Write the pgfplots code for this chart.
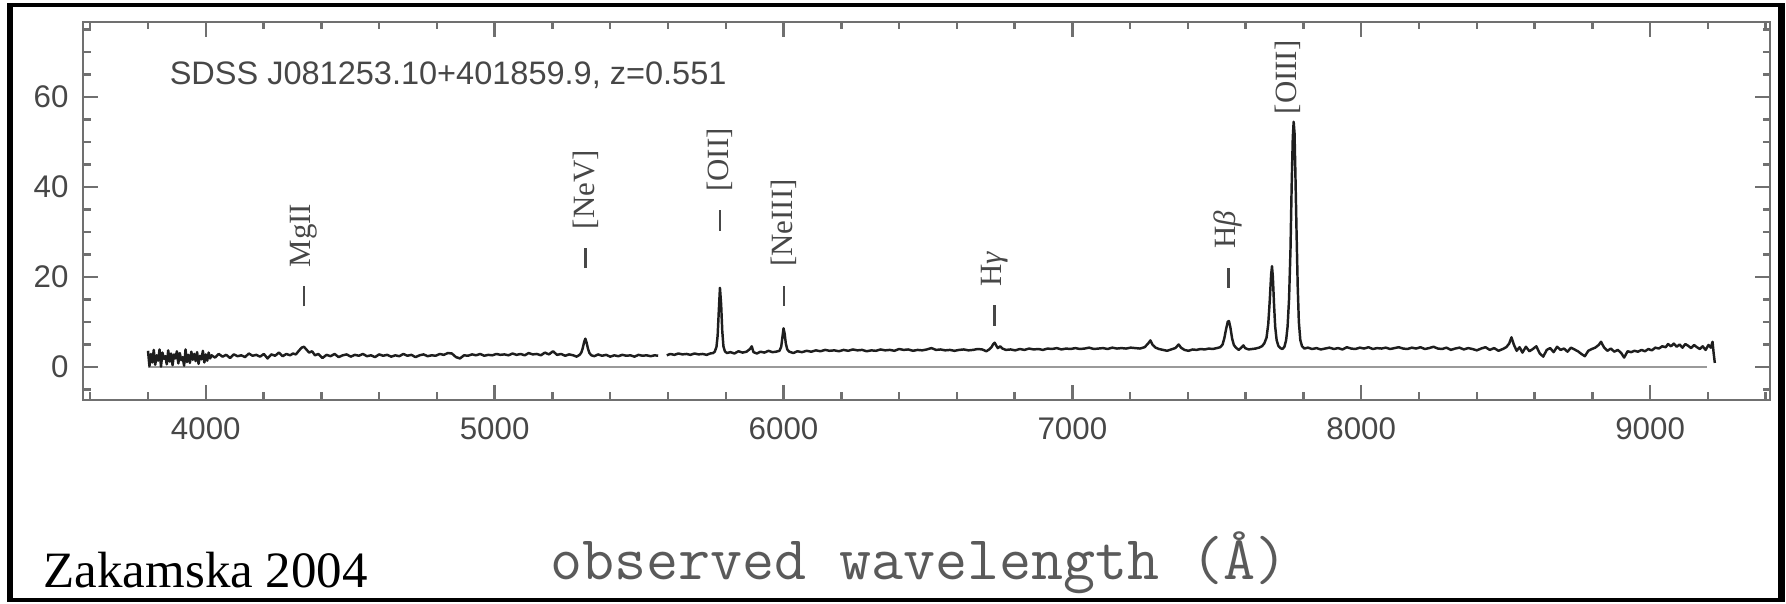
\documentclass[border=0pt]{standalone}
\usepackage{pgfplots}
\pgfplotsset{compat=1.18}
\usepackage{pgfplotstable}
\usepackage{fontspec}
\newfontfamily\labelsans{Liberation Sans}
\newfontfamily\labelserif{Liberation Serif}

\definecolor{axisgray}{HTML}{707070}
\definecolor{textgray}{HTML}{474747}
\definecolor{specblack}{HTML}{1E1E1E}
\definecolor{zerogray}{HTML}{9A9A9A}
\definecolor{xlabelgray}{HTML}{5A5A5A}

% observed-frame spectrum, flux density vs wavelength (Angstrom)
\pgfplotstableread{
lambda flux
3800 3.6
3805 0.2
3810 2.9
3815 1.0
3820 3.8
3825 0.5
3830 2.6
3835 1.4
3840 3.9
3845 0.1
3850 3.2
3855 1.8
3860 2.4
3865 0.6
3870 3.7
3875 1.2
3880 3.0
3885 0.4
3890 2.8
3895 1.9
3900 3.5
3905 0.8
3910 3.1
3915 1.5
3920 2.2
3925 0.3
3930 3.9
3935 1.1
3940 2.7
3945 0.9
3950 3.4
3955 1.6
3960 2.9
3965 1.3
3970 3.3
3975 0.7
3980 2.5
3985 1.7
3990 3.6
3995 1.0
4000 2.8
4005 1.4
4010 3.2
4015 1.9
4020 2.6
4032 2.1
4045 2.9
4058 2.3
4071 2.7
4084 2.0
4097 2.8
4110 2.4
4123 2.6
4136 2.2
4149 3.0
4162 2.5
4175 2.7
4188 2.3
4201 2.9
4214 1.9
4227 2.8
4240 2.5
4253 3.2
4266 2.4
4279 2.9
4292 2.6
4302 3.0
4312 2.8
4322 3.6
4332 4.3
4340 4.5
4348 3.9
4358 3.2
4368 3.5
4378 2.6
4390 2.9
4404 2.0
4418 2.7
4432 2.4
4446 2.9
4460 2.2
4474 2.6
4488 2.8
4502 2.3
4516 2.7
4530 2.5
4544 2.9
4558 2.4
4572 2.6
4586 2.2
4600 2.8
4614 2.5
4628 2.7
4642 2.3
4656 2.6
4670 2.4
4684 2.9
4698 2.5
4712 2.7
4726 2.2
4740 2.6
4754 2.8
4768 2.4
4782 2.6
4796 2.5
4810 2.9
4824 2.7
4838 3.1
4852 3.0
4866 2.2
4880 1.9
4894 2.6
4908 2.5
4922 2.8
4936 2.6
4950 2.9
4964 2.5
4978 2.7
4992 2.6
5006 2.9
5020 2.7
5034 2.8
5048 2.6
5062 3.0
5076 2.7
5090 2.9
5104 2.6
5118 3.1
5132 2.8
5146 2.9
5160 2.6
5174 3.2
5188 2.8
5202 3.5
5216 2.7
5230 2.9
5244 2.5
5258 2.8
5272 2.6
5284 2.3
5294 2.7
5300 3.2
5305 4.2
5310 5.6
5314 6.3
5318 5.5
5323 4.1
5328 3.1
5335 2.6
5345 2.4
5358 2.8
5372 2.5
5386 2.7
5400 2.3
5414 2.6
5428 2.4
5442 2.7
5456 2.5
5470 2.6
5484 2.3
5498 2.7
5512 2.5
5526 2.6
5540 2.4
5554 2.6
5566 2.5
5580 nan
5596 2.6
5608 2.9
5622 2.7
5636 3.0
5650 2.8
5664 2.9
5678 2.7
5692 3.0
5706 2.8
5720 2.9
5734 2.7
5746 3.0
5756 3.1
5762 3.4
5768 4.5
5772 7.0
5776 12.5
5780 17.6
5784 14.0
5788 8.0
5792 4.6
5797 3.5
5804 3.1
5816 3.3
5830 3.0
5844 3.5
5858 3.2
5872 3.4
5884 4.0
5890 4.6
5896 3.3
5908 3.0
5920 3.4
5934 3.2
5948 3.6
5962 3.3
5974 3.4
5986 3.6
5992 4.5
5996 6.5
6000 8.6
6004 7.4
6008 5.2
6013 3.9
6020 3.4
6034 3.1
6048 3.5
6064 3.3
6080 3.6
6096 3.4
6112 3.7
6128 3.5
6144 3.8
6160 3.6
6176 3.7
6192 3.5
6208 3.8
6224 3.6
6240 3.9
6256 3.7
6272 3.8
6288 3.5
6304 3.7
6320 3.6
6336 3.9
6352 3.7
6368 3.8
6384 3.6
6400 4.0
6416 3.8
6432 3.9
6448 3.6
6464 3.8
6480 3.7
6496 3.9
6512 4.2
6528 3.8
6544 3.9
6560 3.7
6576 3.8
6592 3.6
6608 3.8
6624 3.9
6640 3.7
6656 3.8
6672 4.0
6688 3.9
6702 3.5
6712 3.9
6720 4.4
6726 5.1
6731 5.4
6736 4.8
6742 4.2
6750 4.6
6758 4.1
6770 3.8
6786 3.9
6802 3.7
6818 4.0
6834 3.8
6850 4.1
6866 3.9
6882 4.0
6898 3.8
6914 4.1
6930 4.0
6946 4.2
6962 3.9
6978 4.1
6994 4.0
7010 4.2
7026 4.0
7042 4.1
7058 4.3
7074 4.0
7090 4.1
7106 4.2
7122 4.0
7138 4.3
7154 4.1
7170 4.2
7186 4.1
7202 4.3
7218 4.2
7234 4.1
7250 4.4
7262 5.2
7270 5.9
7278 4.9
7288 4.3
7300 4.0
7314 3.8
7328 3.6
7342 3.9
7356 4.2
7368 5.0
7376 4.3
7388 3.8
7402 3.6
7416 3.9
7430 3.8
7444 4.0
7458 3.9
7472 4.1
7486 4.0
7500 4.2
7512 4.4
7520 5.0
7526 6.4
7532 8.4
7538 10.1
7542 10.2
7547 8.8
7553 6.3
7559 4.9
7566 4.3
7576 3.8
7586 4.4
7592 4.8
7598 4.2
7610 3.9
7622 4.0
7634 4.1
7646 4.3
7656 4.6
7664 5.2
7672 6.5
7678 9.5
7683 14.5
7688 20.5
7691 22.4
7694 20.0
7698 14.0
7702 9.0
7707 6.0
7713 4.7
7720 4.2
7727 4.0
7734 4.5
7740 6.0
7745 9.0
7750 15.0
7755 26.0
7759 40.0
7763 51.0
7766 54.5
7769 52.0
7772 43.0
7776 30.0
7780 18.0
7784 10.0
7789 6.0
7795 4.6
7803 4.1
7815 4.3
7830 4.0
7845 4.2
7860 3.9
7875 4.1
7890 4.3
7905 4.0
7920 4.2
7935 3.9
7950 4.4
7965 4.1
7980 4.0
7995 4.3
8010 4.1
8025 4.4
8040 4.0
8055 4.2
8070 4.1
8085 4.3
8100 4.0
8115 4.2
8130 4.4
8145 4.1
8160 4.0
8175 4.3
8190 4.1
8205 4.4
8220 4.0
8235 4.2
8250 4.5
8265 4.1
8280 4.0
8295 4.3
8310 3.8
8325 4.1
8340 4.3
8355 3.9
8370 4.2
8385 4.0
8400 3.7
8415 4.1
8430 4.4
8445 3.8
8460 4.2
8475 3.6
8490 4.0
8502 4.4
8512 5.2
8520 6.6
8528 5.0
8538 3.6
8548 4.4
8558 3.2
8570 4.5
8582 3.5
8594 4.0
8606 4.6
8618 3.0
8630 2.3
8642 3.8
8654 4.2
8666 3.3
8678 4.5
8690 3.8
8702 4.1
8714 3.4
8726 4.3
8738 3.9
8750 3.5
8762 2.9
8774 2.4
8786 3.6
8798 4.0
8810 4.3
8822 4.9
8830 5.6
8840 4.4
8852 3.6
8864 4.1
8876 3.4
8888 3.8
8900 3.1
8910 2.1
8922 3.5
8934 3.3
8946 3.6
8958 3.4
8970 3.8
8982 3.5
8994 4.0
9006 3.7
9018 4.3
9030 4.1
9042 4.6
9054 4.4
9062 5.1
9072 4.6
9082 5.2
9092 4.5
9102 5.0
9112 4.3
9122 5.1
9132 4.7
9142 4.2
9152 4.9
9162 4.4
9172 4.0
9182 4.6
9192 3.8
9202 4.9
9210 4.3
9216 5.6
9220 3.0
9224 0.9
}\spectrum

\begin{document}
\begin{tikzpicture}
\useasboundingbox (0,0) rectangle (178.6mm,60.4mm);

% black border around the panel
\fill[black] (0.7mm,0.2mm) rectangle (1.3mm,60.05mm);
\fill[black] (0.7mm,59.65mm) rectangle (178.5mm,60.05mm);
\fill[black] (177.75mm,0.2mm) rectangle (178.5mm,60.05mm);
\fill[black] (0.7mm,0.2mm) rectangle (178.5mm,0.6mm);

\begin{axis}[
  at={(8.3mm,20.4mm)}, anchor=south west,
  scale only axis, width=168.7mm, height=37.8mm,
  xmin=3575, xmax=9415, ymin=-7.33, ymax=76.67,
  xtick={4000,5000,...,9000},
  minor xtick={3600,3800,...,9400},
  ytick={0,20,40,60},
  minor ytick={-5,5,10,15,25,30,35,45,50,55,65,70,75},
  major tick length=1.5mm, minor tick length=0.75mm,
  axis line style={axisgray, line width=0.7pt},
  tick style={axisgray, line width=0.7pt},
  tick label style={font=\labelsans\fontsize{8.9}{10}\selectfont, text=textgray},
  /pgf/number format/assume math mode=true,
  /pgf/number format/1000 sep={},
  xticklabel style={yshift=-1.6pt},
  yticklabel style={xshift=-0.6pt},
  unbounded coords=jump,
  clip=false,
]
% zero level
\addplot[zerogray, line width=0.85pt] coordinates {(3800,0) (9196,0)};
% spectrum
\addplot[specblack, line width=0.7pt, line join=round] table[x=lambda, y=flux] {\spectrum};

% object name and redshift
\node[anchor=base west, inner sep=0pt, text=textgray,
      font=\labelsans\fontsize{9.25}{11}\selectfont]
  at (axis cs:3873,62.7) {SDSS J081253.10+401859.9, z=0.551};

% emission-line identifications
\tikzset{linelab/.style={rotate=90, anchor=west, inner sep=0pt, text=textgray,
                         font=\labelserif\fontsize{8.8}{10}\selectfont},
         linetick/.style={textgray, line width=0.7pt}}
\draw[linetick] (axis cs:4340,13.5) -- (axis cs:4340,18.0);
\node[linelab] at (axis cs:4340,22.0) {MgII};
\draw[linetick] (axis cs:5314,22.0) -- (axis cs:5314,26.5);
\node[linelab] at (axis cs:5314,30.5) {[NeV]};
\draw[linetick] (axis cs:5781,30.3) -- (axis cs:5781,34.8);
\node[linelab] at (axis cs:5781,38.8) {[OII]};
\draw[linetick] (axis cs:6001,13.6) -- (axis cs:6001,18.1);
\node[linelab] at (axis cs:6001,22.1) {[NeIII]};
\draw[linetick] (axis cs:6731,9.2) -- (axis cs:6731,13.7);
\node[linelab] at (axis cs:6731,17.7) {H\textit{γ}};
\draw[linetick] (axis cs:7540,17.6) -- (axis cs:7540,22.1);
\node[linelab] at (axis cs:7540,26.1) {H\textit{β}};
\node[linelab] at (axis cs:7745,56.0) {[OIII]};
\end{axis}

% axis title and citation
\node[anchor=base west, inner sep=0pt, text=xlabelgray,
      font=\ttfamily\fontsize{17.7}{20}\selectfont]
  at (55mm,2.4mm) {observed wavelength (Å)};
\node[anchor=base west, inner sep=0pt, text=black,
      font=\labelserif\fontsize{14.5}{17}\selectfont]
  at (4.3mm,1.6mm) {Zakamska 2004};
\end{tikzpicture}
\end{document}
